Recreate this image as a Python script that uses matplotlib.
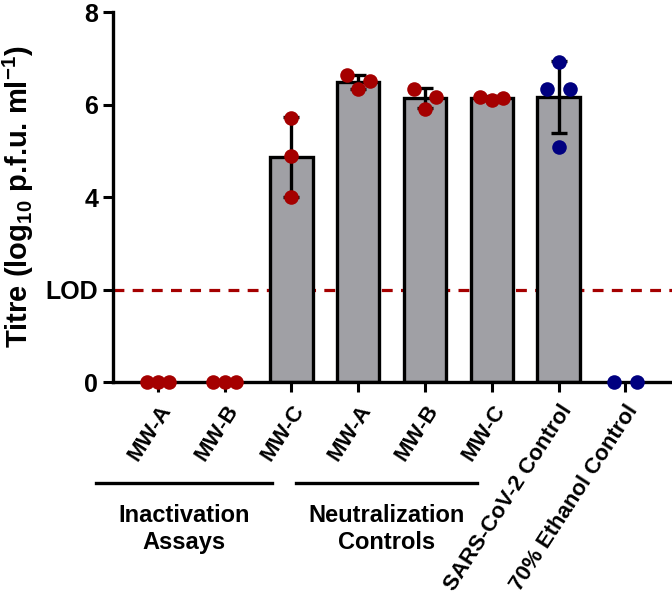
import numpy as np
import matplotlib
matplotlib.use("Agg")
import matplotlib.pyplot as plt
import matplotlib.transforms as mtransforms

plt.rcParams['font.family'] = ['Liberation Sans', 'DejaVu Sans']
plt.rcParams['font.weight'] = 'bold'
plt.rcParams['mathtext.fontset'] = 'custom'
plt.rcParams['mathtext.rm'] = 'Liberation Sans:bold'
plt.rcParams['mathtext.bf'] = 'Liberation Sans:bold'

# data (log10 titres)
labels = ["MW-A", "MW-B", "MW-C", "MW-A", "MW-B", "MW-C",
          "SARS-CoV-2 Control", "70% Ethanol Control"]
inact_a = [0, 0, 0]
inact_b = [0, 0, 0]
inact_c = [5.72, 4.88, 4.0]
neut_a = [6.63, 6.33, 6.50]
neut_b = [6.33, 5.91, 6.17]
neut_c = [6.17, 6.09, 6.15]
sars_ctrl = [6.93, 6.33, 6.33, 5.09]
ethanol_ctrl = [0, 0]
groups = [inact_a, inact_b, inact_c, neut_a, neut_b, neut_c, sars_ctrl, ethanol_ctrl]
dot_colors = ["#a50000"] * 6 + ["#000080", "#000080"]
lod = 2

y_ticks = [0, 2, 4, 6, 8]
y_ticklabels = ["0", "LOD", "4", "6", "8"]

brackets = [("Inactivation\nAssays", -0.93, 1.71),
            ("Neutralization\nControls", 2.07, 4.78)]


def spread(vals, half=0.17, close=0.35):
    # simple column scatter: values that sit close together are spread sideways
    vals = np.asarray(vals, dtype=float)
    offs = np.zeros(len(vals))
    order = np.argsort(vals, kind="stable")
    clusters = [[order[0]]]
    for k in order[1:]:
        if vals[k] - vals[clusters[-1][-1]] < close:
            clusters[-1].append(k)
        else:
            clusters.append([k])
    for cl in clusters:
        cl = sorted(cl)
        if len(cl) > 1:
            offs[cl] = np.linspace(-half, half, len(cl))
    return offs


fig = plt.figure(figsize=(6.72, 6.02), dpi=100)
ax = fig.add_axes([0.168, 0.365, 0.832, 0.615])

x = np.arange(len(groups))
means = np.array([np.mean(g) for g in groups])
sds = np.array([np.std(g, ddof=1) for g in groups])
has_bar = means > 0

ax.bar(x[has_bar], means[has_bar], width=0.63, color="#a0a0a5",
       edgecolor="black", linewidth=2.4, zorder=2)
ax.errorbar(x[has_bar], means[has_bar], yerr=sds[has_bar], fmt="none",
            ecolor="black", elinewidth=2.4, capsize=6, capthick=2.4, zorder=3)

for i, g in enumerate(groups):
    ax.scatter(x[i] + spread(g), g, s=110, color=dot_colors[i],
               zorder=5, clip_on=False, linewidths=0)

ax.axhline(lod, color="#a50000", linestyle=(0, (3.4, 2.6)), linewidth=2.3, zorder=1)

ax.set_xlim(-0.675, 7.7)
ax.set_ylim(0, 8)
ax.set_yticks(y_ticks)
ax.set_yticklabels(y_ticklabels, fontsize=18, fontweight="bold")
ax.set_xticks(x)
ax.set_xticklabels(labels, rotation=57, ha="right", rotation_mode="anchor",
                   fontsize=16, fontweight="bold")
ax.tick_params(axis="both", width=2.2, length=7.5, color="black")
ax.tick_params(axis="x", pad=6)
ax.tick_params(axis="y", pad=3)

for side in ["top", "right"]:
    ax.spines[side].set_visible(False)
for side in ["left", "bottom"]:
    ax.spines[side].set_linewidth(2.4)

ax.set_ylabel("Titre (log$_{10}$ p.f.u. ml$^{-1}$)", fontsize=21, fontweight="bold")
ax.yaxis.set_label_coords(-0.138, 0.5)

trans = mtransforms.blended_transform_factory(ax.transData, ax.transAxes)
for text, x0, x1 in brackets:
    ax.plot([x0, x1], [-0.273, -0.273], color="black", linewidth=2.4,
            transform=trans, clip_on=False)
    ax.text((x0 + x1) / 2, -0.397, text, transform=trans, ha="center", va="center",
            fontsize=17, fontweight="bold", linespacing=1.2)

fig.savefig("out.png", dpi=100)
